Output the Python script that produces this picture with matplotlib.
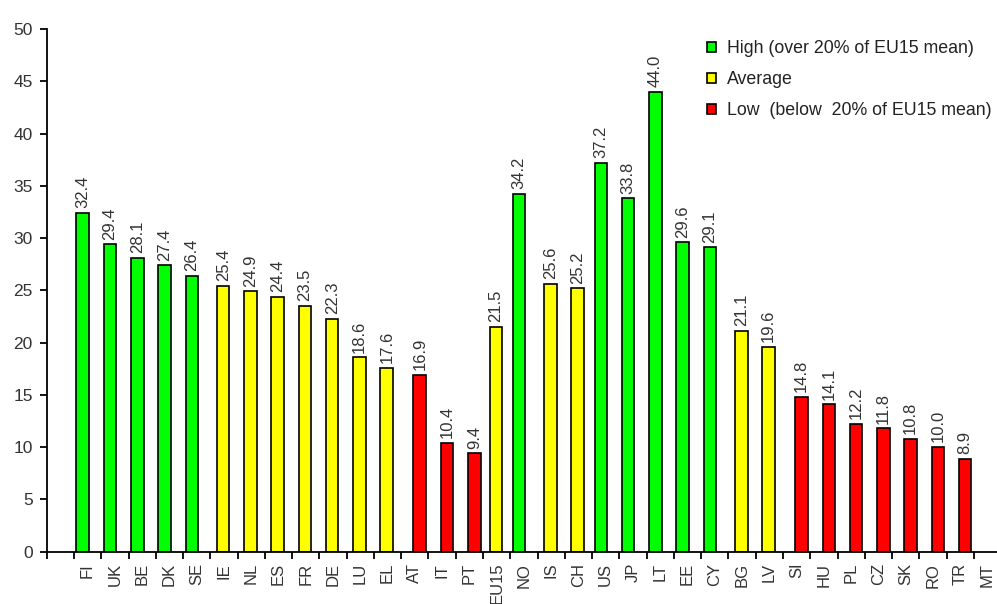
import numpy as np
import matplotlib
matplotlib.use("Agg")
from matplotlib import pyplot as plt
from matplotlib.patches import Patch

plt.rcParams['font.family'] = ['Liberation Sans', 'DejaVu Sans']

# chart data (first slot is blank, MT has no value)
countries = ["", "FI", "UK", "BE", "DK", "SE", "IE", "NL", "ES", "FR", "DE", "LU", "EL",
             "AT", "IT", "PT", "EU15", "NO", "IS", "CH", "US", "JP", "LT", "EE", "CY",
             "BG", "LV", "SI", "HU", "PL", "CZ", "SK", "RO", "TR", "MT"]
values = [None, 32.4, 29.4, 28.1, 27.4, 26.4, 25.4, 24.9, 24.4, 23.5, 22.3, 18.6, 17.6,
          16.9, 10.4, 9.4, 21.5, 34.2, 25.6, 25.2, 37.2, 33.8, 44.0, 29.6, 29.1,
          21.1, 19.6, 14.8, 14.1, 12.2, 11.8, 10.8, 10.0, 8.9, None]
groups = ["", "H", "H", "H", "H", "H", "A", "A", "A", "A", "A", "A", "A",
          "L", "L", "L", "A", "H", "A", "A", "H", "H", "H", "H", "H",
          "A", "A", "L", "L", "L", "L", "L", "L", "L", ""]
legend_labels = {"H": "High (over 20% of EU15 mean)",
                 "A": "Average",
                 "L": "Low  (below  20% of EU15 mean)"}

colors = {"H": "#00ff00", "A": "#ffff00", "L": "#ff0000"}
offsets = {"H": -0.18, "A": -0.03, "L": 0.18}

fig = plt.figure(figsize=(9.97, 6.04), dpi=100)
W, H = 997, 604
slot = 27.27
left = 46.7
ax = fig.add_axes([left / W, (H - 551.7) / H, 35 * slot / W, (551.7 - 29) / H])

x = np.arange(len(countries))
for i, v in enumerate(values):
    if v is None:
        continue
    g = groups[i]
    xi = x[i] + offsets[g]
    ax.bar(xi, v, width=0.46, color=colors[g], edgecolor="black", linewidth=1.2, zorder=2)
    ax.text(xi, v + 0.45, "%.1f" % v, rotation=90, ha="center", va="bottom",
            fontsize=12, color="#333333")

ax.set_xlim(-0.5, len(countries) - 0.5)
ax.set_ylim(0, 50)
ax.set_yticks(np.arange(0, 51, 5))
ax.set_xticks(x)
ax.set_xticklabels(countries, rotation=90, fontsize=12, color="#333333")
ax.set_xticks(np.arange(-0.5, len(countries), 1), minor=True)
ax.tick_params(axis="x", which="major", length=0, pad=8)
ax.tick_params(axis="x", which="minor", length=5, width=1.3, direction="out")
ax.tick_params(axis="y", length=5, width=1.3, direction="out", pad=5, labelsize=12.5,
               labelcolor="#333333")
for s in ["top", "right"]:
    ax.spines[s].set_visible(False)
for s in ["left", "bottom"]:
    ax.spines[s].set_linewidth(1.3)

handles = [Patch(facecolor=colors[k], edgecolor="black", linewidth=1.2) for k in ["H", "A", "L"]]
fig.legend(handles, [legend_labels[k] for k in ["H", "A", "L"]],
           loc="upper left", bbox_to_anchor=(707 / W, 1 - 40 / H), frameon=False,
           fontsize=12.8, handlelength=0.5, handleheight=0.5, handletextpad=0.6,
           labelspacing=0.8, borderpad=0, borderaxespad=0, labelcolor="#222222")

fig.savefig("out.png", dpi=100)
